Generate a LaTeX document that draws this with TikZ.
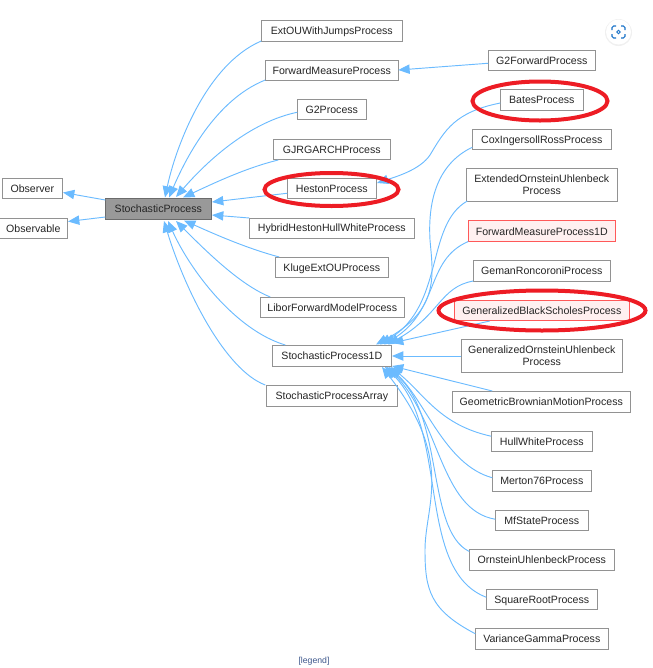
\documentclass[tikz,border=0pt]{standalone}
\usepackage{fontspec}
\setmainfont{Liberation Sans}
\usetikzlibrary{arrows.meta}
\definecolor{edgeblue}{HTML}{6BBBFF}
\definecolor{ringred}{HTML}{ED1C24}
\definecolor{boxgray}{HTML}{929292}
\definecolor{linkblue}{HTML}{3D578C}
\definecolor{iconblue}{HTML}{1A73C8}
\tikzset{
  box/.style={draw=boxgray,fill=white,line width=0.7pt,inner sep=0pt,outer sep=0pt,align=center,text=black!85,
    font=\fontsize{7.95}{9.2}\selectfont},
  rootbox/.style={box,fill=black!40,draw=black!58},
  pinkbox/.style={box,fill=red!6,draw=red!65},
  edge/.style={draw=edgeblue,line width=0.7pt,-{Triangle[length=8.5pt,width=7pt]}},
  ring/.style={draw=ringred,line width=3pt}
}
\newcommand{\st}{\rule[-1.5pt]{0pt}{9pt}}
\newcommand{\bx}[7][box]{\node[#1,minimum width={(#5-#3)*0.75pt},minimum height={(#6-#4)*0.75pt}] (#2) at ({(#3+#5)/2+0.3},{(#4+#6)/2}) {\st#7};}
\begin{document}
\begin{tikzpicture}[x=0.75pt,y=-0.75pt]
\useasboundingbox (0,0) rectangle (653,668);
\clip (0,0) rectangle (653,668);
% nodes
\bx{obs}{2}{178}{62}{198.5}{Observer}
\bx{obl}{-1}{218}{67}{238}{Observable}
\bx[rootbox]{sp}{105}{198}{211}{219}{StochasticProcess}
\bx{ext}{261}{20}{402}{41}{ExtOUWithJumpsProcess}
\bx{fmp}{265}{60}{398}{80}{ForwardMeasureProcess}
\bx{gtwo}{297}{99}{366}{119.5}{G2Process}
\bx{gjr}{273}{139}{390}{159}{GJRGARCHProcess}
\bx{hes}{287}{178}{376}{198.5}{HestonProcess}
\bx{hyb}{249}{218}{414}{238}{HybridHestonHullWhiteProcess}
\bx{klu}{275}{257}{388}{277.5}{KlugeExtOUProcess}
\bx{lib}{260}{297}{404}{317}{LiborForwardModelProcess}
\bx{one}{272}{345}{391}{366}{StochasticProcess1D}
\bx{arr}{266}{385}{397}{406}{StochasticProcessArray}
\bx{gfw}{488}{50}{595}{70.5}{G2ForwardProcess}
\bx{bat}{500}{89}{583}{110}{BatesProcess}
\bx{cox}{472}{129}{611}{149.5}{CoxIngersollRossProcess}
\bx{eou}{466}{168.5}{617}{201}{ExtendedOrnsteinUhlenbeck\\\st Process}
\bx[pinkbox]{fm1}{468}{220.5}{615}{241.5}{ForwardMeasureProcess1D}
\bx{gem}{473}{260}{610}{281}{GemanRoncoroniProcess}
\bx[pinkbox]{gbs}{454}{300}{629}{320}{GeneralizedBlackScholesProcess}
\bx{gou}{461}{339.5}{622}{372}{GeneralizedOrnsteinUhlenbeck\\\st Process}
\bx{gbm}{452}{391}{630}{412}{GeometricBrownianMotionProcess}
\bx{hw}{491}{431}{592}{451.5}{HullWhiteProcess}
\bx{mer}{492}{470.5}{591}{491}{Merton76Process}
\bx{mfs}{495}{510}{588}{530.5}{MfStateProcess}
\bx{oup}{469}{549.5}{614}{570}{OrnsteinUhlenbeckProcess}
\bx{sqr}{486}{589}{597}{609.5}{SquareRootProcess}
\bx{vgp}{475}{628.5}{608}{649}{VarianceGammaProcess}
\node[text=linkblue,font=\fontsize{6.5}{8}\selectfont,inner sep=0pt] (leg) at (314,661) {[legend]};
% tips
\coordinate (o1) at (63,192.5);\coordinate (o2) at (68,221.5);
\coordinate (a1) at (165,197.5);\coordinate (a2) at (169,197.5);\coordinate (a3) at (176,197);\coordinate (a4) at (183,197.5);
\coordinate (a5) at (212,202);\coordinate (a6) at (212,215);
\coordinate (b1) at (184,220.5);\coordinate (b2) at (176,221);\coordinate (b3) at (168,221);\coordinate (b4) at (164,221);
\coordinate (h1) at (377,183);
\coordinate (c1) at (376,344.5);\coordinate (c2) at (380,344.5);\coordinate (c3) at (384,344.5);\coordinate (c4) at (388,344.5);\coordinate (c5) at (392,343);
\coordinate (d1) at (392,356);\coordinate (d2) at (392,366);\coordinate (d3) at (391,367);\coordinate (d4) at (389,367);\coordinate (d5) at (387,367);\coordinate (d6) at (385,367);\coordinate (d7) at (382,367);
% edges
\draw[edge] (sp.north west) ++(0,2) -- (o1);
\draw[edge] (sp.south west) ++(0,-2) -- (o2);
\draw[edge] (ext.south west) .. controls (205,65) and (175,150) .. (a1);
\draw[edge] (fmp.south west) .. controls (215,100) and (185,160) .. (a2);
\draw[edge] (gtwo.west) ++(0,3) .. controls (250,122) and (208,160) .. (a3);
\draw[edge] (gjr.south west) ++(5,1) .. controls (245,168) and (210,185) .. (a4);
\draw[edge] (hes.west) ++(0,5) -- (a5);
\draw[edge] (hyb.north west) -- (a6);
\draw[edge] (klu.north west) ++(4,0) .. controls (245,248) and (210,232) .. (b1);
\draw[edge] (lib.north west) ++(10,0) .. controls (240,285) and (205,250) .. (b2);
\draw[edge] (one.north west) ++(13,0) .. controls (235,330) and (190,270) .. (b3);
\draw[edge] (arr.north west) ++(-1,0) .. controls (225,370) and (185,290) .. (b4);
\draw[edge] (gfw.west) ++(0,3) -- (fmp.east);
\draw[edge] (bat.west) ++(0,3.5) .. controls (455,112) and (445,130) .. (430,155) .. controls (420,170) and (395,177) .. (h1);
\draw[edge] (cox.west) ++(0,8) .. controls (435,165) and (428,205) .. (430,240) .. controls (433,275) and (440,310) .. (c1);
\draw[edge] (eou.south west) ++(1,0) .. controls (425,225) and (445,305) .. (c2);
\draw[edge] (fm1.south west) .. controls (425,260) and (440,310) .. (c3);
\draw[edge] (gem.south west) .. controls (440,287) and (440,315) .. (c4);
\draw[edge] (gbs.south) ++(-52,1) -- (c5);
\draw[edge] (gou.west |- d1) -- (d1);
\draw[edge] (gbm.north west) ++(40,0) -- (d2);
\draw[edge] (hw.west) ++(0,-5) .. controls (440,425) and (425,395) .. (d3);
\draw[edge] (mer.west) ++(0,-3) .. controls (445,465) and (425,400) .. (d4);
\draw[edge] (mfs.west) ++(0,-1) .. controls (440,510) and (440,420) .. (d5);
\draw[edge] (oup.north west) ++(0,2) .. controls (425,530) and (445,410) .. (d6);
\draw[edge] (sqr.west) ++(0,-2) .. controls (415,570) and (450,430) .. (d6);
\draw[edge] (vgp.west) ++(0,-5) .. controls (430,610) and (425,590) .. (425,550) .. controls (425,505) and (455,460) .. (d7);
% rings
\draw[ring] (331.5,189.5) ellipse [x radius=67, y radius=16.5];
\draw[ring] (540,101) ellipse [x radius=67.5, y radius=19.5];
\draw[ring] (542,310.5) ellipse [x radius=103.5, y radius=20];
% screenshot lens icon
\fill[black!6] (618.5,32.5) circle (13.5);
\fill[white] (618.5,32) circle (12.5);
\draw[iconblue,line width=0.8pt,rounded corners=1.2pt] (612,30) -- (612,26) -- (616,26) (621,26) -- (625,26) -- (625,30) (625,34) -- (625,38) -- (621,38) (616,38) -- (612,38) -- (612,34);
\draw[iconblue,line width=0.7pt] (618.5,32) circle (1.8);
\end{tikzpicture}
\end{document}
